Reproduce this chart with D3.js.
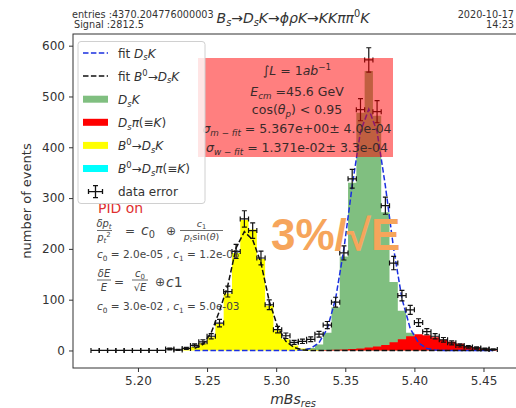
<!DOCTYPE html>
<html>
<head>
<meta charset="utf-8">
<script src="https://cdn.jsdelivr.net/npm/d3@7"></script>
<style>
html, body { margin: 0; padding: 0; background: #fff; }
svg { display: block; font-family: "DejaVu Sans", sans-serif; overflow: hidden; }
</style>
</head>
<body>
<svg id="chart" width="516" height="408"></svg>
<script>
// Bin centres of the reconstructed Bs mass (GeV), bin width 0.006
const binCenters = [
  5.169, 5.175, 5.181, 5.187, 5.193, 5.199, 5.205, 5.211, 5.217, 5.223,
  5.229, 5.235, 5.241, 5.247, 5.253, 5.259, 5.265, 5.271, 5.277, 5.283,
  5.289, 5.295, 5.301, 5.307, 5.313, 5.319, 5.325, 5.331, 5.337, 5.343,
  5.349, 5.355, 5.361, 5.367, 5.373, 5.379, 5.385, 5.391, 5.397, 5.403,
  5.409, 5.415, 5.421, 5.427, 5.433, 5.439, 5.445, 5.451, 5.457
];

// Observed events per bin (error = sqrt(n))
const dataCounts = [
  0, 0, 0, 0, 0, 0, 0, 0, 0, 3,
  1, 4, 10, 17, 28, 54, 116, 195, 259, 236,
  182, 90, 41, 29, 16, 18, 22, 32, 50, 95,
  192, 338, 474, 572, 470, 285, 172, 108, 80, 55,
  37, 28, 21, 15, 10, 7, 5, 3, 2
];

// Component histograms
const histDsK = [
  0, 0, 0, 0, 0, 0, 0, 0, 0, 0,
  0, 0, 0, 0, 0, 0, 0, 0, 0, 0,
  0, 0, 0, 0, 0, 2, 5, 12, 35, 85,
  185, 330, 468, 550, 462, 272, 135, 78, 35, 14,
  5, 2, 0, 0, 0, 0, 0, 0, 0
];
const histDsPi = [
  0, 0, 0, 0, 0, 0, 0, 0, 0, 0,
  0, 0, 0, 0, 0, 0, 0, 0, 0, 0,
  0, 0, 0, 0, 0, 0, 0, 0.5, 1, 1.5,
  2, 3, 4, 6, 8, 11, 16, 22, 28, 32,
  30, 26, 21, 17, 13, 9, 6, 3, 1.5
];
const histB0DsK = [
  0, 0, 0, 0, 0, 0, 0, 0, 0, 0,
  0, 2, 7, 14, 26, 52, 112, 192, 257, 238,
  180, 88, 40, 22, 10, 4, 2, 1, 0, 0,
  0, 0, 0, 0, 0, 0, 0, 0, 0, 0,
  0, 0, 0, 0, 0, 0, 0, 0, 0
];
const histB0DsPi = [
  0, 0, 0, 0, 0, 0, 0, 0, 0, 0,
  0, 0, 0, 0, 0, 0, 0, 0, 0, 0,
  0, 0, 0, 0, 0, 0, 0, 0, 0, 0,
  0, 0, 0, 0, 0, 0, 0, 0, 0, 0,
  0, 0, 0, 0, 0, 0, 0, 0, 0
];

// Fit curves, evaluated at the bin centres starting from bin index fitStart
const fitStart = 12;
const fitDsK = [
  0, 0, 0, 0, 0, 0, 0, 0, 0, 0, 0, 0, 0,
  1, 4, 15, 43, 102, 200, 324, 431, 475, 431, 324, 200, 102, 43, 15, 4, 1,
  0, 0, 0, 0, 0, 0, 0
];
const fitB0DsK = [
  4, 12, 35, 78, 128, 202, 234, 218, 172, 97, 47, 18, 6, 1,
  0, 0, 0, 0, 0, 0, 0, 0, 0, 0, 0, 0, 0, 0, 0, 0, 0, 0, 0, 0, 0, 0, 0
];

const xTicks = [5.20, 5.25, 5.30, 5.35, 5.40, 5.45];
const yTicks = [0, 100, 200, 300, 400, 500, 600];

const svg = d3.select("#chart");
const L = 73, R = 517.5, T = 34, B = 368;
const x = d3.scaleLinear().domain([5.153, 5.4746]).range([L, R]);
const y = d3.scaleLinear().domain([-34.5, 623]).range([B, T]);
const binW = binCenters[1] - binCenters[0];

svg.append("defs").append("clipPath").attr("id", "plotClip")
  .append("rect").attr("x", L).attr("y", T).attr("width", R - L).attr("height", B - T);

// Mixed text with italic / sub / superscript runs
function rich(sel, px, py, parts, size, anchor, fill) {
  const t = sel.append("text").attr("x", px).attr("y", py)
    .attr("font-size", size).attr("text-anchor", anchor || "start")
    .attr("fill", fill || "#333");
  let shift = 0;
  parts.forEach(p => {
    const s = typeof p === "string" ? p : p[0];
    const kind = typeof p === "string" ? "" : (p[1] || "");
    let target = 0, fs = size;
    if (kind.includes("_")) { target = size * 0.24; fs = size * 0.7; }
    if (kind.includes("^")) { target = -size * 0.4; fs = size * 0.7; }
    const ts = t.append("tspan").text(s).attr("font-size", fs).attr("dy", target - shift);
    if (kind.includes("i")) ts.attr("font-style", "italic");
    shift = target;
  });
  return t;
}

const plot = svg.append("g").attr("clip-path", "url(#plotClip)");

// Step histograms
function stepPoints(vals) {
  const pts = binCenters.map((c, i) => [c - binW / 2, vals[i]]);
  pts.push([binCenters[binCenters.length - 1] + binW / 2, vals[vals.length - 1]]);
  return pts;
}
const area = d3.area().x(d => x(d[0])).y0(y(0)).y1(d => y(d[1])).curve(d3.curveStepAfter);
[[histDsK, "#80bf80"], [histDsPi, "#ff0000"], [histB0DsK, "#ffff00"], [histB0DsPi, "#00ffff"]]
  .forEach(([vals, col]) => {
    plot.append("path").attr("d", area(stepPoints(vals))).attr("fill", col);
  });

// Fit curves
const fitX = binCenters.slice(fitStart);
const line = d3.line().x(d => x(d[0])).y(d => y(d[1]));
[[fitDsK, "#1a2fe0"], [fitB0DsK, "#111"]].forEach(([vals, col]) => {
  plot.append("path").attr("d", line(fitX.map((c, i) => [c, vals[i]])))
    .attr("fill", "none").attr("stroke", col).attr("stroke-width", 1.5)
    .attr("stroke-dasharray", "5.5,2.4");
});

// Resolution formulas
const ann = svg.append("g");
const fc = "#444";
rich(ann, 98, 213, ["PID on"], 14, "start", "#e03030");
// dp_t / p_t^2 = c0 (+) c1 / (p_t sin(theta))
rich(ann, 104, 226.5, [["δ", "i"], ["p", "i"], ["t", "i_"]], 10, "middle", fc);
ann.append("line").attr("x1", 97).attr("x2", 112).attr("y1", 230.5).attr("y2", 230.5).attr("stroke", fc).attr("stroke-width", 0.8);
rich(ann, 104, 240.5, [["p", "i"], ["t", "i_"], ["2", "^"]], 10, "middle", fc);
rich(ann, 125, 235, [" = "], 12, "start", fc);
rich(ann, 141, 235, [["c", "i"], ["0", "_"]], 14, "start", fc);
rich(ann, 166, 235, ["⊕"], 12, "start", fc);
rich(ann, 201.5, 226.5, [["c", "i"], ["1", "_"]], 9.5, "middle", fc);
ann.append("line").attr("x1", 180).attr("x2", 223).attr("y1", 230.5).attr("y2", 230.5).attr("stroke", fc).attr("stroke-width", 0.8);
rich(ann, 201.5, 240, [["p", "i"], ["t", "i_"], "sin(", ["θ", "i"], ")"], 9.5, "middle", fc);
rich(ann, 97, 258, [["c", "i"], ["0", "_"], " = 2.0e-05 , ", ["c", "i"], ["1", "_"], " = 1.2e-03"], 10.5, "start", fc);
// dE / E = c0 / sqrt(E) (+) c1
rich(ann, 104, 277, [["δ", "i"], ["E", "i"]], 10, "middle", fc);
ann.append("line").attr("x1", 97).attr("x2", 111).attr("y1", 280).attr("y2", 280).attr("stroke", fc).attr("stroke-width", 0.8);
rich(ann, 104, 290.5, [["E", "i"]], 10, "middle", fc);
rich(ann, 114, 286, [" = "], 12, "start", fc);
rich(ann, 140, 277, [["c", "i"], ["0", "_"]], 10, "middle", fc);
ann.append("line").attr("x1", 132).attr("x2", 148).attr("y1", 280).attr("y2", 280).attr("stroke", fc).attr("stroke-width", 0.8);
rich(ann, 140, 290.5, ["√", ["E", "i"]], 10, "middle", fc);
rich(ann, 155, 286, ["⊕"], 12, "start", fc);
rich(ann, 166, 287, [["c", "i"], ["1", ""]], 14, "start", fc);
rich(ann, 97, 310, [["c", "i"], ["0", "_"], " = 3.0e-02 , ", ["c", "i"], ["1", "_"], " = 5.0e-03"], 10.5, "start", fc);

// Data points with x and y error bars
const eb = plot.append("g").attr("stroke", "#111").attr("stroke-width", 1.2).attr("fill", "none");
binCenters.forEach((c, i) => {
  const n = dataCounts[i], e = Math.sqrt(n);
  const xl = x(c - binW / 2), xr = x(c + binW / 2), xc = x(c), yc = y(n);
  const yt = y(n + e), yb = y(n - e);
  const p = `M${xl},${yc}H${xr}M${xl},${yc - 2.5}V${yc + 2.5}M${xr},${yc - 2.5}V${yc + 2.5}` +
            `M${xc},${yt}V${yb}M${xc - 2.5},${yt}H${xc + 2.5}M${xc - 2.5},${yb}H${xc + 2.5}`;
  eb.append("path").attr("d", p);
});

// Frame
svg.append("rect").attr("x", L).attr("y", T).attr("width", R - L).attr("height", B - T)
  .attr("fill", "none").attr("stroke", "#333").attr("stroke-width", 1);

// Axes
const xAxis = svg.append("g").attr("transform", `translate(0,${B})`)
  .call(d3.axisBottom(x).tickValues(xTicks).tickFormat(d3.format(".2f")).tickSize(4).tickPadding(4).tickSizeOuter(0));
const yAxis = svg.append("g").attr("transform", `translate(${L},0)`)
  .call(d3.axisLeft(y).tickValues(yTicks).tickSize(4).tickPadding(4).tickSizeOuter(0));
[xAxis, yAxis].forEach(a => {
  a.select(".domain").remove();
  a.selectAll("line").attr("stroke", "#333");
  a.selectAll("text").attr("font-size", 12).attr("fill", "#333").attr("font-family", "DejaVu Sans");
});

svg.append("text").attr("transform", "translate(31,201) rotate(-90)")
  .attr("text-anchor", "middle").attr("font-size", 13).attr("fill", "#333").text("number of events");
rich(svg, 293, 404, [["mBs", "i"], ["res", "i_"]], 14, "middle", "#333");

// Header texts
svg.append("text").attr("x", 72).attr("y", 17.5).attr("font-size", 9.7).attr("fill", "#333").text("entries :4370.204776000003");
svg.append("text").attr("x", 74).attr("y", 27.5).attr("font-size", 9.7).attr("fill", "#333").text("Signal :2812.5");
svg.append("text").attr("x", 514).attr("y", 17.5).attr("font-size", 9.7).attr("fill", "#333").attr("text-anchor", "end").text("2020-10-17");
svg.append("text").attr("x", 514).attr("y", 27.5).attr("font-size", 9.7).attr("fill", "#333").attr("text-anchor", "end").text("14:23");
rich(svg, 293, 23, [["B", "i"], ["s", "i_"], "→", ["D", "i"], ["s", "i_"], ["K", "i"], "→", ["ϕρK", "i"], "→", ["KKππ", "i"], ["0", "^"], ["K", "i"]], 14, "middle", "#333");

// Run-condition box
const box = svg.append("g");
box.append("rect").attr("x", 198).attr("y", 58).attr("width", 195).attr("height", 99)
  .attr("fill", "#ff0000").attr("fill-opacity", 0.5);
const bx = 297, bf = 12.5, bc = "#3a2a2a";
rich(box, bx, 75, ["∫", ["L", "i"], " = 1", ["ab", "i"], ["−1", "^"]], bf, "middle", bc);
rich(box, bx, 95.5, [["E", "i"], ["cm", "i_"], " =45.6 GeV"], bf, "middle", bc);
rich(box, bx, 114, ["cos(", ["θ", "i"], ["p", "i_"], ") < 0.95"], bf, "middle", bc);
rich(box, bx, 133, [["σ", "i"], ["m − fit", "i_"], " = 5.367e+00± 4.0e-04"], bf, "middle", bc);
rich(box, bx, 151.5, [["σ", "i"], ["w − fit", "i_"], " = 1.371e-02± 3.3e-04"], bf, "middle", bc);

// Legend
const lg = svg.append("g");
lg.append("rect").attr("x", 78).attr("y", 41.5).attr("width", 127).attr("height", 162).attr("rx", 3)
  .attr("fill", "#fff").attr("fill-opacity", 0.8).attr("stroke", "#d0d0d0");
const legendItems = [
  { kind: "line", color: "#1a2fe0", label: ["fit ", ["D", "i"], ["s", "i_"], ["K", "i"]] },
  { kind: "line", color: "#111", label: ["fit ", ["B", "i"], ["0", "^"], "→", ["D", "i"], ["s", "i_"], ["K", "i"]] },
  { kind: "patch", color: "#80bf80", label: [["D", "i"], ["s", "i_"], ["K", "i"]] },
  { kind: "patch", color: "#ff0000", label: [["D", "i"], ["s", "i_"], ["π", "i"], "(≡", ["K", "i"], ")"] },
  { kind: "patch", color: "#ffff00", label: [["B", "i"], ["0", "^"], "→", ["D", "i"], ["s", "i_"], ["K", "i"]] },
  { kind: "patch", color: "#00ffff", label: [["B", "i"], ["0", "^"], "→", ["D", "i"], ["s", "i_"], ["π", "i"], "(≡", ["K", "i"], ")"] },
  { kind: "err", color: "#111", label: ["data error"] }
];
legendItems.forEach((it, i) => {
  const yc = 53 + i * 23.1;
  if (it.kind === "line") {
    lg.append("line").attr("x1", 83).attr("x2", 108).attr("y1", yc).attr("y2", yc)
      .attr("stroke", it.color).attr("stroke-width", 1.5).attr("stroke-dasharray", "5.5,2.4");
  } else if (it.kind === "patch") {
    lg.append("rect").attr("x", 83).attr("y", yc - 3.5).attr("width", 25).attr("height", 7).attr("fill", it.color);
  } else {
    const cx = 95.5;
    lg.append("path").attr("d",
      `M${cx - 7},${yc}H${cx + 7}M${cx - 7},${yc - 2.5}V${yc + 2.5}M${cx + 7},${yc - 2.5}V${yc + 2.5}` +
      `M${cx},${yc - 6}V${yc + 6}M${cx - 2.5},${yc - 6}H${cx + 2.5}M${cx - 2.5},${yc + 6}H${cx + 2.5}`)
      .attr("stroke", it.color).attr("stroke-width", 1.3).attr("fill", "none");
  }
  rich(lg, 118, yc + 4.5, it.label, 12, "start", "#333");
});

// Resolution callout
svg.append("text").attr("x", 271).attr("y", 250).attr("font-family", "Liberation Sans, Arial, sans-serif")
  .attr("font-weight", "bold").attr("font-size", 44).attr("fill", "#f6a55b").text("3%/√E");
</script>
</body>
</html>
